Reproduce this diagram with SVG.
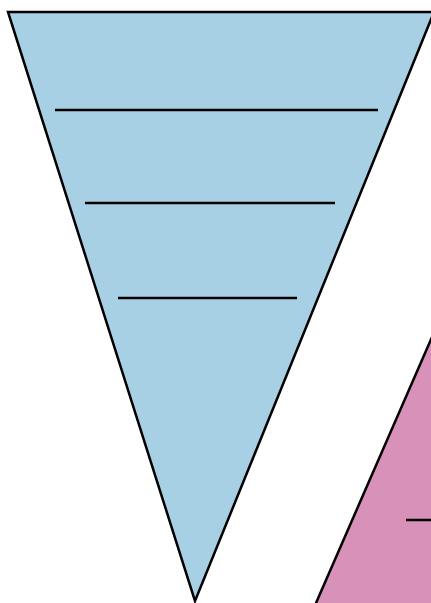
<svg xmlns="http://www.w3.org/2000/svg" width="431" height="603" viewBox="0 0 431 603">
<style>
.shape{stroke:#000;stroke-width:2.5;stroke-linejoin:miter}
.rule{stroke:#000;stroke-width:2.5;fill:none}
</style>
<rect width="431" height="603" fill="#fff"/>
<g id="blue-funnel">
<polygon class="shape" fill="#a8d0e4" points="8,12 434,12 195,601"/>
<line class="rule" x1="55" y1="110" x2="378" y2="110"/>
<line class="rule" x1="85" y1="203" x2="335" y2="203"/>
<line class="rule" x1="118" y1="298" x2="297" y2="298"/>
</g>
<g id="pink-triangle">
<polygon class="shape" fill="#d891b8" points="432,337 600,720 265,720"/>
<line class="rule" x1="406" y1="520" x2="440" y2="520"/>
</g>
<g id="connectors"/>
</svg>
